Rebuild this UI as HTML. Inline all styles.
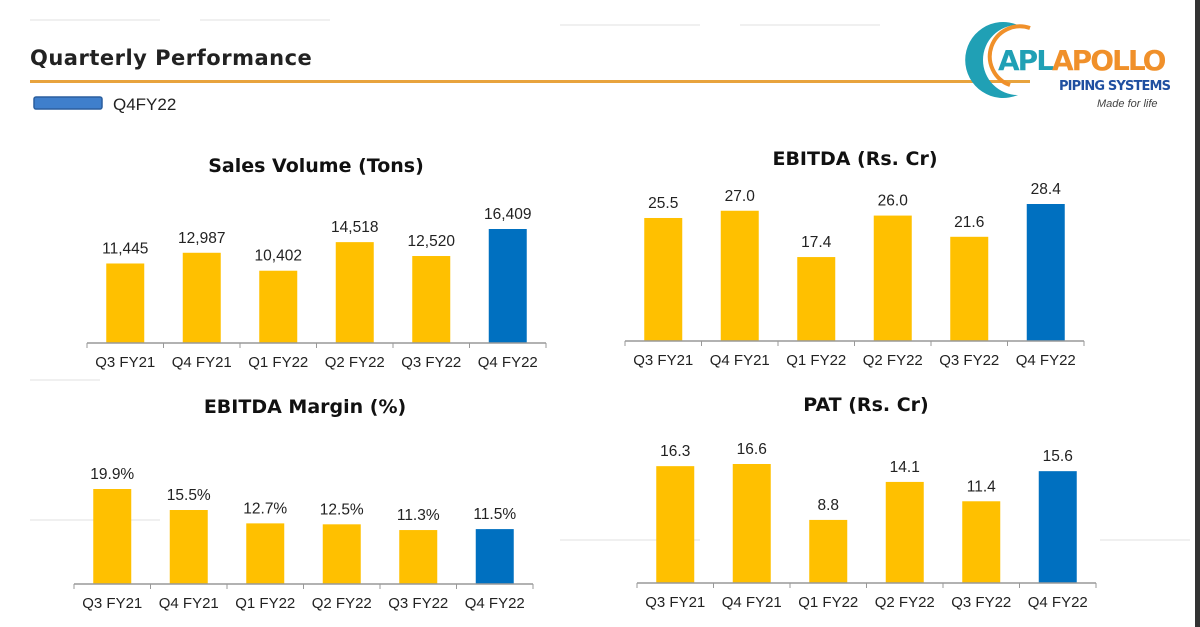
<!DOCTYPE html>
<html><head><meta charset="utf-8"><style>
body{margin:0;width:1200px;height:627px;overflow:hidden;background:#fff;font-family:"Liberation Sans",sans-serif}
svg{display:block}
</style></head><body>
<svg id="s" width="1200" height="627">
<rect x="0" y="0" width="1200" height="627" fill="#fff"/>
<g stroke="#f0f0f0" fill="none" stroke-width="2">
<path d="M30 20H160M200 20H330M560 25H700M740 25H880M30 520H160M560 540H700M1100 540H1190M30 380H100"/>
</g>
<text x="30" y="65" font-family="DejaVu Sans,sans-serif" font-weight="bold" font-size="21" fill="#222" letter-spacing="0.5">Quarterly Performance</text>
<rect x="30" y="80" width="1000" height="3" fill="#E8A33D"/>
<g>
<rect x="34" y="97" width="68" height="12" rx="2" fill="#3F7FCC" stroke="#2B5F9E" stroke-width="1.5"/>
<text x="113" y="110" font-size="17" fill="#222">Q4FY22</text>
</g>
<g>
<path d="M1018 25 A38 38 0 1 0 1018 95 A32 32 0 1 1 1018 25Z" fill="#20A0B5"/>
<path d="M1030 28 A30 30 0 0 0 1010 85" fill="none" stroke="#F0902A" stroke-width="4"/>
<text x="998" y="70" font-family="DejaVu Sans,sans-serif" font-weight="bold" font-size="28" fill="#20A0B5" letter-spacing="-2">APL</text>
<text x="1052" y="70" font-family="DejaVu Sans,sans-serif" font-weight="bold" font-size="28" fill="#F0902A" letter-spacing="-2">APOLLO</text>
<text x="1059" y="90" font-family="DejaVu Sans,sans-serif" font-weight="bold" font-size="13" fill="#1F4FA0" textLength="112">PIPING SYSTEMS</text>
<text x="1097" y="107" font-style="italic" font-size="11" fill="#444">Made for life</text>
</g>
<rect x="1195" y="0" width="5" height="627" fill="#333"/>
</svg>
<script>
const categories=["Q3 FY21","Q4 FY21","Q1 FY22","Q2 FY22","Q3 FY22","Q4 FY22"];
const salesValues=[11445,12987,10402,14518,12520,16409];
const salesLabels=["11,445","12,987","10,402","14,518","12,520","16,409"];
const ebitdaValues=[25.5,27.0,17.4,26.0,21.6,28.4];
const ebitdaLabels=["25.5","27.0","17.4","26.0","21.6","28.4"];
const marginValues=[19.9,15.5,12.7,12.5,11.3,11.5];
const marginLabels=["19.9%","15.5%","12.7%","12.5%","11.3%","11.5%"];
const patValues=[16.3,16.6,8.8,14.1,11.4,15.6];
const patLabels=["16.3","16.6","8.8","14.1","11.4","15.6"];
const NS="http://www.w3.org/2000/svg";
const svg=document.getElementById('s');
function mk(t,a,txt){const e=document.createElementNS(NS,t);for(const k in a)e.setAttribute(k,a[k]);if(txt!==undefined)e.textContent=txt;svg.appendChild(e);return e;}
function chart(name,title,titleX,titleY,x0,step,base,maxPx,maxVal,vals,labels){
  const xs=i=>x0+step*(i+0.5);
  const ys=v=>base-v/maxVal*maxPx;
  const t=mk('text',{x:titleX,y:titleY,'text-anchor':'middle','font-family':'DejaVu Sans,sans-serif','font-weight':'bold','font-size':'19',fill:'#111'},title);
  
  
  vals.forEach((v,i)=>{
    const r=mk('rect',{x:xs(i)-19,y:ys(v),width:38,height:base-ys(v),fill:i===vals.length-1?'#0070C0':'#FFC000'});
    
    
    const l=mk('text',{x:xs(i),y:ys(v)-10,'text-anchor':'middle','font-size':'15.5',fill:'#222'},labels[i]);
    
    
    const c=mk('text',{x:xs(i),y:base+24,'text-anchor':'middle','font-size':'15',fill:'#222'},categories[i]);
    
    
  });
  const ax=mk('line',{x1:x0,y1:base,x2:x0+step*vals.length,y2:base,stroke:'#999','stroke-width':1.5});
  
  
  for(let i=0;i<=vals.length;i++){const tk=mk('line',{x1:x0+step*i,y1:base,x2:x0+step*i,y2:base+5,stroke:'#999'});
    
    }
}
chart('sales','Sales Volume (Tons)',316,172,87,76.5,343,114,16409,salesValues,salesLabels);
chart('ebitda','EBITDA (Rs. Cr)',855,165,625,76.5,341,137,28.4,ebitdaValues,ebitdaLabels);
chart('ebitda-margin','EBITDA Margin (%)',305,413,74,76.5,584,95,19.9,marginValues,marginLabels);
chart('pat','PAT (Rs. Cr)',866,411,637,76.5,583,119,16.6,patValues,patLabels);
</script>
</body></html>
